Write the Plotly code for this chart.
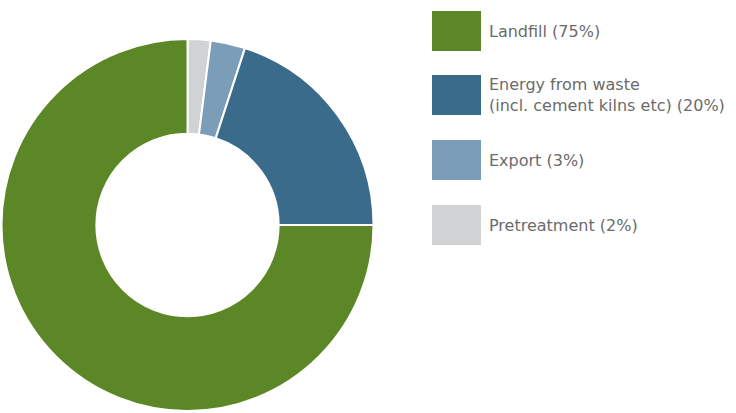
import plotly.graph_objects as go

# Waste treatment routes and their shares (%)
categories = ["Landfill", "Energy from waste<br>(incl. cement kilns etc)", "Export", "Pretreatment"]
shares = [75, 20, 3, 2]
colors = ["#5b8726", "#3a6b8a", "#7b9db8", "#d1d2d4"]

W, H = 736, 413

def px_x(x):
    return x / W

def px_y(y):
    return 1 - y / H

# Donut geometry in pixels
cx, cy, r = 187.5, 225, 186

# Slices run clockwise from 12 o'clock: smallest share first
fig = go.Figure(
    go.Pie(
        labels=categories[::-1],
        values=shares[::-1],
        sort=False,
        direction="clockwise",
        rotation=0,
        hole=0.49,
        textinfo="none",
        hoverinfo="label+percent",
        marker=dict(colors=colors[::-1], line=dict(color="white", width=2)),
        domain=dict(x=[px_x(cx - r), px_x(cx + r)], y=[px_y(cy + r), px_y(cy - r)]),
        showlegend=False,
    )
)

# Legend drawn as large swatches with labels
box_left, box_w, box_h = 432, 49, 40
box_tops = [11, 75, 140, 205]
text_x = 487
shapes = []
annotations = []
for name, val, col, top in zip(categories, shares, colors, box_tops):
    shapes.append(dict(
        type="rect", xref="paper", yref="paper",
        x0=px_x(box_left), x1=px_x(box_left + box_w),
        y0=px_y(top + box_h), y1=px_y(top),
        fillcolor=col, line=dict(width=0),
    ))
    annotations.append(dict(
        xref="paper", yref="paper",
        x=px_x(text_x), y=px_y(top + box_h / 2),
        xanchor="left", yanchor="middle", align="left",
        text=f"{name} ({val}%)", showarrow=False,
        font=dict(family="DejaVu Sans, sans-serif", size=16, color="#6b6b6b"),
    ))

fig.update_layout(
    width=W, height=H,
    margin=dict(l=0, r=0, t=0, b=0),
    paper_bgcolor="white", plot_bgcolor="white",
    shapes=shapes, annotations=annotations,
)

fig.write_html("out.html")
